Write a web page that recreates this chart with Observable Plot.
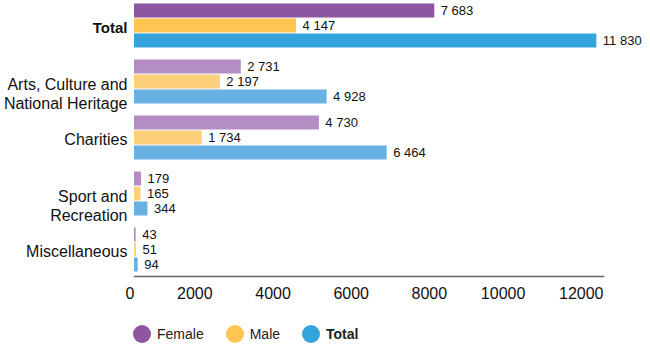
<!DOCTYPE html>
<html><head><meta charset="utf-8">
<script src="https://cdn.jsdelivr.net/npm/d3@7"></script>
<script src="https://cdn.jsdelivr.net/npm/@observablehq/plot@0.6"></script>
<style>
body{margin:0;background:#fff;font-family:"Liberation Sans",Arial,Helvetica,sans-serif}
#legend{display:flex;align-items:center;margin:13px 0 0 133px;font-size:14px;color:#222;height:18px}
.item{display:flex;align-items:center;margin-right:22px}
.dot{width:18px;height:18px;border-radius:50%;margin-right:6px}
</style></head>
<body><div id="chart"></div><div id="legend"></div>
<script>
const categories = ["Total", "Arts, Culture and National Heritage", "Charities", "Sport and Recreation", "Miscellaneous"];
const categoryLabels = ["Total", "Arts, Culture and\nNational Heritage", "Charities", "Sport and\nRecreation", "Miscellaneous"];
const series = ["Female", "Male", "Total"];
const female = [7683, 2731, 4730, 179, 43];
const male = [4147, 2197, 1734, 165, 51];
const total = [11830, 4928, 6464, 344, 94];
const xTicks = [0, 2000, 4000, 6000, 8000, 10000, 12000];

const strongColors = {Female: "#8e55a2", Male: "#ffc452", Total: "#36a4dc"};
const lightColors = {Female: "#b38dc3", Male: "#ffd07c", Total: "#68b1e2"};

const valuesBySeries = {Female: female, Male: male, Total: total};
const rows = [];
categories.forEach((c, i) => series.forEach(s => rows.push({category: c, series: s, value: valuesBySeries[s][i]})));
const catRows = categories.map((c, i) => ({category: c, label: categoryLabels[i]}));

const fmt = d3.formatLocale({decimal: ".", thousands: " ", grouping: [3], currency: ["", ""]}).format(",");
const FONT = '"Liberation Sans", Arial, Helvetica, sans-serif';

const plot = Plot.plot({
  width: 650,
  height: 312,
  marginTop: 3,
  marginBottom: 40,
  marginLeft: 134,
  marginRight: 47,
  style: {fontFamily: FONT, fontSize: "13px", color: "#111", background: "white"},
  x: {domain: [0, 12000], axis: null, label: null},
  y: {domain: series, axis: null, padding: 0},
  fy: {domain: categories, axis: null, paddingInner: 11 / 56, paddingOuter: 0},
  marks: [
    Plot.barX(rows, {
      x: "value", y: "series", fy: "category",
      fill: d => (d.category === "Total" ? strongColors : lightColors)[d.series],
      insetTop: 0.5, insetBottom: 0.5
    }),
    Plot.text(rows, {
      x: "value", y: "series", fy: "category", text: d => fmt(d.value),
      textAnchor: "start", dx: 6, fill: "#111", fontSize: 13
    }),
    Plot.text(catRows.filter(d => d.category === "Total"), {
      fy: "category", text: "label", frameAnchor: "left", textAnchor: "end",
      dx: -7, dy: 2, fontSize: 15, fontWeight: "bold", fill: "#111"
    }),
    Plot.text(catRows.filter(d => d.category !== "Total" && !d.label.includes("\n")), {
      fy: "category", text: "label", frameAnchor: "left", textAnchor: "end",
      dx: -7, dy: 2, fontSize: 16, fill: "#111"
    }),
    Plot.text(catRows.filter(d => d.label.includes("\n")), {
      fy: "category", text: "label", frameAnchor: "left", textAnchor: "end",
      dx: -7, dy: 11, fontSize: 16, lineHeight: 1.19, fill: "#111"
    }),
    Plot.axisX({ticks: xTicks, tickFormat: d => String(d), tickSize: 0, tickPadding: 15,
      textAnchor: "end", fontSize: 16, fill: "#111", label: null}),
    Plot.frame({anchor: "bottom", fy: ["Miscellaneous"], stroke: "#666", strokeWidth: 1.5, dy: 4})
  ]
});
document.getElementById("chart").appendChild(plot);

const legend = document.getElementById("legend");
series.forEach(s => {
  const item = document.createElement("div");
  item.className = "item";
  const dot = document.createElement("span");
  dot.className = "dot";
  dot.style.background = strongColors[s];
  const label = document.createElement("span");
  label.textContent = s;
  if (s === "Total") label.style.fontWeight = "bold";
  item.appendChild(dot);
  item.appendChild(label);
  legend.appendChild(item);
});
</script>
</body></html>
